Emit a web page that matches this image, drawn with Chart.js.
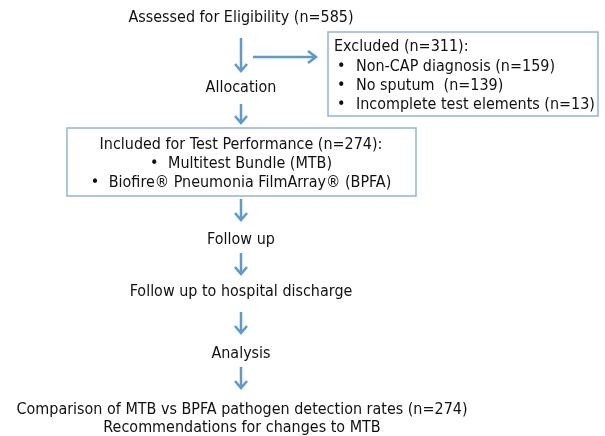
<!DOCTYPE html>
<html>
<head>
<meta charset="utf-8">
<script src="https://cdn.jsdelivr.net/npm/chart.js@4/dist/chart.umd.min.js"></script>
<style>
  html, body { margin: 0; padding: 0; background: #fff; }
  #flow { display: block; }
</style>
</head>
<body>
<canvas id="flow" width="605" height="436"></canvas>
<script>
// texts of the flow diagram
const stepLabels = ['Assessed for Eligibility (n=585)', 'Allocation', 'Follow up', 'Follow up to hospital discharge', 'Analysis'];
const excludedTitle = 'Excluded (n=311):';
const excludedReasons = ['Non-CAP diagnosis (n=159)', 'No sputum  (n=139)', 'Incomplete test elements (n=13)'];
const includedTitle = 'Included for Test Performance (n=274):';
const includedTests = ['Multitest Bundle (MTB)', 'Biofire® Pneumonia FilmArray® (BPFA)'];
const outcomeLines = ['Comparison of MTB vs BPFA pathogen detection rates (n=274)', 'Recommendations for changes to MTB'];

// layout in scale units (x: 0..605, y: 0..436 top-down)
const midX = 241;
const stepY = [18, 88, 240, 292, 354];
const outcomeY = [410, 428];
const excludedBox = { x0: 328, x1: 598, y0: 32, y1: 116, lineY: [47, 67, 86, 105], bulletX: 337, textX: 356 };
const includedBox = { x0: 67, x1: 416, y0: 128, y1: 196, lineY: [145, 164, 183] };
const vArrows = [[38, 71], [104, 123], [199, 220], [253, 274], [312, 333], [367, 388]];
const hArrow = { x0: 253, x1: 316, y: 57 };

const arrowColor = '#5b9bd5';
const boxColor = '#8db3e2';
const textColor = '#111111';
const fontFamily = "'DejaVu Sans Condensed', 'DejaVu Sans', sans-serif";
const fontSize = 15.5;

function vArrowData(a) {
  return [
    { x: midX, y: a[0] }, { x: midX, y: a[1] }, { x: midX, y: null },
    { x: midX - 6, y: a[1] - 7 }, { x: midX, y: a[1] }, { x: midX + 6, y: a[1] - 7 }
  ];
}

function hArrowData(a) {
  return [
    { x: a.x0, y: a.y }, { x: a.x1, y: a.y }, { x: a.x1, y: null },
    { x: a.x1 - 8, y: a.y - 6 }, { x: a.x1, y: a.y }, { x: a.x1 - 8, y: a.y + 6 }
  ];
}

const arrowSets = vArrows.map(vArrowData).concat([hArrowData(hArrow)]).map(d => ({
  type: 'line',
  data: d,
  borderColor: arrowColor,
  borderWidth: 2.5,
  pointRadius: 0,
  spanGaps: false,
  fill: false,
  borderCapStyle: 'butt',
  borderJoinStyle: 'miter'
}));

const flowBoxes = {
  id: 'flowBoxes',
  beforeDatasetsDraw(chart) {
    const { ctx, scales: { x, y } } = chart;
    ctx.save();
    ctx.strokeStyle = boxColor;
    ctx.lineWidth = 1.5;
    [excludedBox, includedBox].forEach(b => {
      const px = x.getPixelForValue(b.x0), py = y.getPixelForValue(b.y0);
      ctx.strokeRect(px, py, x.getPixelForValue(b.x1) - px, y.getPixelForValue(b.y1) - py);
    });
    ctx.restore();
  },
  afterDatasetsDraw(chart) {
    const { ctx, scales: { x, y } } = chart;
    ctx.save();
    ctx.font = fontSize + 'px ' + fontFamily;
    // squeeze horizontally so the widest line matches the reference width
    const sx = 451 / ctx.measureText(outcomeLines[0]).width;
    ctx.fillStyle = textColor;
    ctx.textBaseline = 'middle';

    const put = (t, px, py, align) => {
      ctx.save();
      ctx.translate(px, py);
      ctx.scale(sx, 1);
      ctx.textAlign = align;
      ctx.fillText(t, 0, 0);
      ctx.restore();
    };
    const at = (t, vx, vy, align) => put(t, x.getPixelForValue(vx), y.getPixelForValue(vy), align);

    stepLabels.forEach((t, i) => at(t, midX, stepY[i], 'center'));
    outcomeLines.forEach((t, i) => at(t, midX + 1, outcomeY[i], 'center'));

    // excluded box
    at(excludedTitle, excludedBox.bulletX - 3, excludedBox.lineY[0], 'left');
    excludedReasons.forEach((t, i) => {
      at('•', excludedBox.bulletX, excludedBox.lineY[i + 1], 'left');
      at(t, excludedBox.textX, excludedBox.lineY[i + 1], 'left');
    });

    // included box, bullet lines centred as a whole
    at(includedTitle, midX, includedBox.lineY[0], 'center');
    includedTests.forEach((t, i) => {
      const w = ctx.measureText(t).width * sx;
      const gap = 18;
      const left = x.getPixelForValue(midX) - (w + gap) / 2;
      const py = y.getPixelForValue(includedBox.lineY[i + 1]);
      put('•', left, py, 'left');
      put(t, left + gap, py, 'left');
    });
    ctx.restore();
  }
};

new Chart(document.getElementById('flow'), {
  type: 'scatter',
  data: { datasets: arrowSets },
  options: {
    responsive: false,
    animation: false,
    layout: { padding: 0 },
    plugins: { legend: { display: false }, tooltip: { enabled: false } },
    scales: {
      x: { type: 'linear', min: 0, max: 605, display: false },
      y: { type: 'linear', min: 0, max: 436, reverse: true, display: false }
    }
  },
  plugins: [flowBoxes]
});
</script>
</body>
</html>
